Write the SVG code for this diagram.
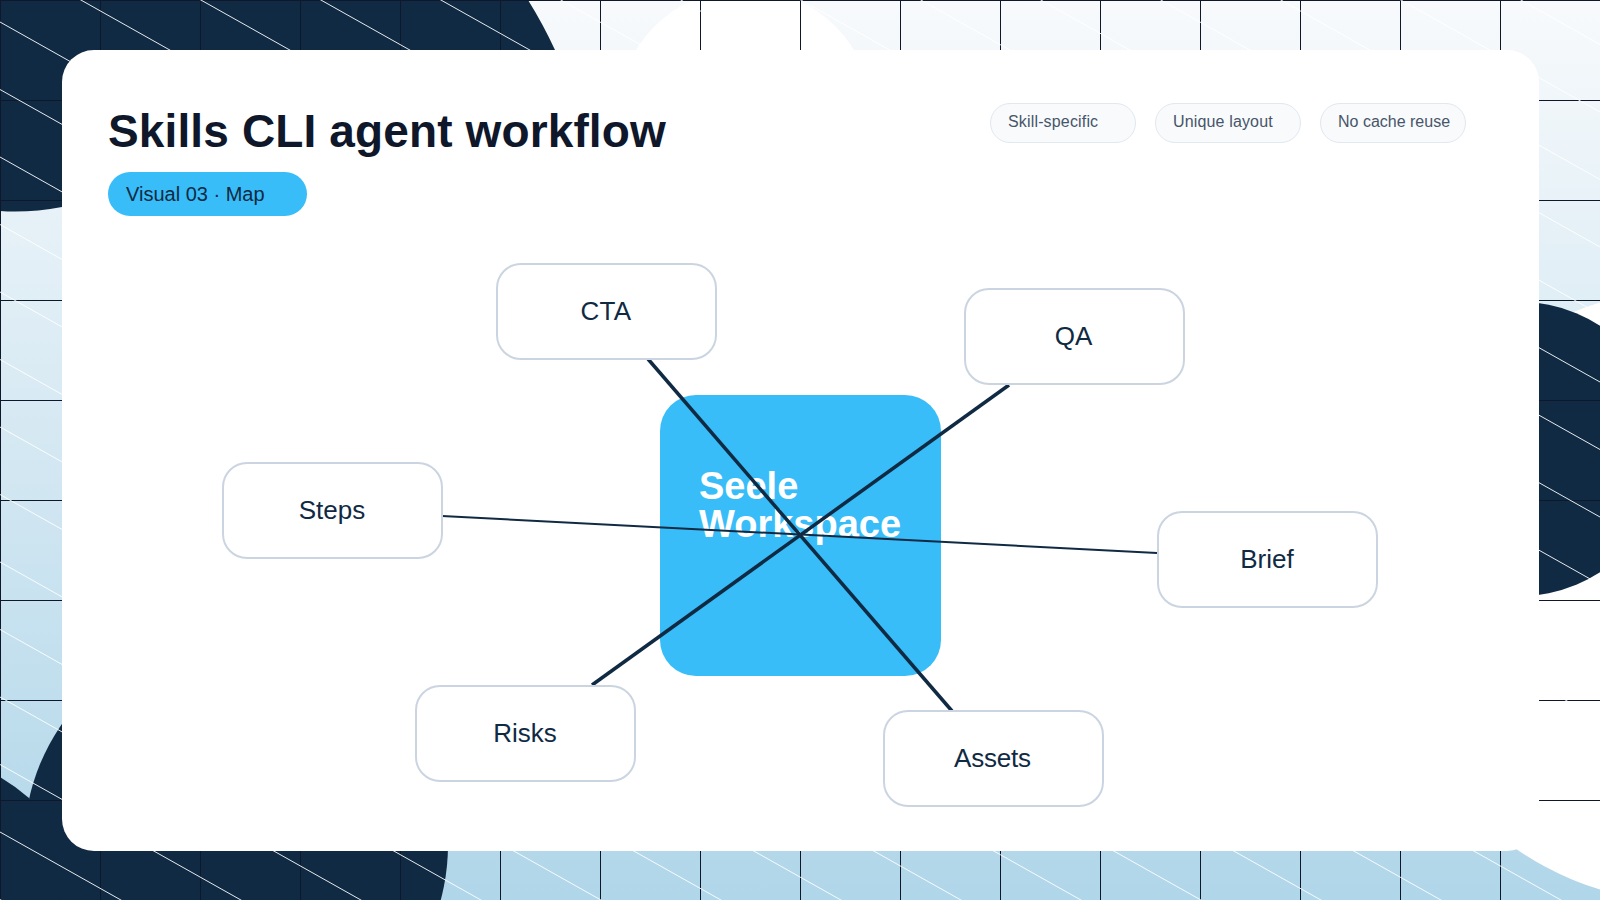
<svg xmlns="http://www.w3.org/2000/svg" width="1600" height="900" viewBox="0 0 1600 900">
<style>
text{font-family:"Liberation Sans",Arial,sans-serif}
.node{fill:#fff;stroke:#cbd5e1;stroke-width:2}
.lbl{font-size:26px;fill:#102a43;text-anchor:middle}
.chip{fill:#f8fafc;stroke:#e2e8f0;stroke-width:1}
.chiptxt{font-size:16px;fill:#475569}
.dark{fill:#102a43}
.conn{stroke:#102a43;stroke-width:3.5;fill:none}
</style>
<defs>
<linearGradient id="bg" x1="0" y1="0" x2="0" y2="1"><stop offset="0" stop-color="#f8fafc"/><stop offset="1" stop-color="#b0d6e9"/></linearGradient>
<pattern id="grid" width="100" height="100" patternUnits="userSpaceOnUse"><rect width="100" height="1" fill="#0f172a"/><rect width="1" height="100" fill="#0f172a"/></pattern>
</defs>
<g id="background">
<rect width="1600" height="900" fill="url(#bg)"/>
<circle cx="745" cy="117" r="128" fill="#fff"/>
<circle cx="1690" cy="596" r="307" fill="#fff"/>
<path class="dark" d="M0 0H528Q543 24 555 50V120L62 207Q30 213 0 211Z"/>
<circle class="dark" cx="1520" cy="449" r="147"/>
<circle class="dark" cx="236" cy="845" r="212"/>
<path class="dark" d="M0 777Q15 786 29 798L60 900H0Z"/>
<rect width="1600" height="900" fill="url(#grid)"/>
<path stroke="#fff" stroke-width="0.9" fill="none" d="M0 -923L1600 -23M0 -855.5L1600 44.5M0 -788L1600 112M0 -720.5L1600 179.5M0 -653L1600 247M0 -585.5L1600 314.5M0 -518L1600 382M0 -450.5L1600 449.5M0 -383L1600 517M0 -315.5L1600 584.5M0 -248L1600 652M0 -180.5L1600 719.5M0 -113L1600 787M0 -45.5L1600 854.5M0 22L1600 922M0 89.5L1600 989.5M0 157L1600 1057M0 224.5L1600 1124.5M0 292L1600 1192M0 359.5L1600 1259.5M0 427L1600 1327M0 494.5L1600 1394.5M0 562L1600 1462M0 629.5L1600 1529.5M0 697L1600 1597M0 764.5L1600 1664.5M0 832L1600 1732M0 899.5L1600 1799.5"/>
</g>
<rect id="card" x="62" y="50" width="1477" height="801" rx="32" fill="#fff"/>
<text id="title" x="108" y="147" font-size="46" font-weight="700" letter-spacing="0.13" fill="#0f172a">Skills CLI agent workflow</text>
<g id="badge"><rect x="108" y="172" width="199" height="44" rx="22" fill="#38bdf8"/><text x="126" y="201" font-size="20" fill="#102a43">Visual 03 · Map</text></g>
<g id="chip-1"><rect class="chip" x="990.5" y="103.5" width="145" height="39" rx="19.5"/><text class="chiptxt" x="1008" y="127" letter-spacing="0.16">Skill-specific</text></g>
<g id="chip-2"><rect class="chip" x="1155.5" y="103.5" width="145" height="39" rx="19.5"/><text class="chiptxt" x="1173" y="127" letter-spacing="0.15">Unique layout</text></g>
<g id="chip-3"><rect class="chip" x="1320.5" y="103.5" width="145" height="39" rx="19.5"/><text class="chiptxt" x="1338" y="127">No cache reuse</text></g>
<g id="node-center"><rect x="660" y="395" width="281" height="281" rx="36" fill="#38bdf8"/><text x="699" y="498.5" font-size="38" font-weight="700" fill="#fff">Seele</text><text x="699" y="537" font-size="38" font-weight="700" fill="#fff">Workspace</text></g>
<g id="connectors">
<line class="conn" x1="648" y1="359" x2="952" y2="711"/>
<line class="conn" x1="1009" y1="385" x2="592" y2="685"/>
<line class="conn" style="stroke-width:2" x1="442" y1="516" x2="1157" y2="553"/>
</g>
<g id="node-cta"><rect class="node" x="497" y="264" width="219" height="95" rx="24"/><text class="lbl" x="606" y="320" letter-spacing="0.3">CTA</text></g>
<g id="node-qa"><rect class="node" x="965" y="289" width="219" height="95" rx="24"/><text class="lbl" x="1073.5" y="345">QA</text></g>
<g id="node-steps"><rect class="node" x="223" y="463" width="219" height="95" rx="24"/><text class="lbl" x="332" y="519">Steps</text></g>
<g id="node-brief"><rect class="node" x="1158" y="512" width="219" height="95" rx="24"/><text class="lbl" x="1267" y="568">Brief</text></g>
<g id="node-risks"><rect class="node" x="416" y="686" width="219" height="95" rx="24"/><text class="lbl" x="525" y="742">Risks</text></g>
<g id="node-assets"><rect class="node" x="884" y="711" width="219" height="95" rx="24"/><text class="lbl" x="992.5" y="767" letter-spacing="-0.2">Assets</text></g>
</svg>
